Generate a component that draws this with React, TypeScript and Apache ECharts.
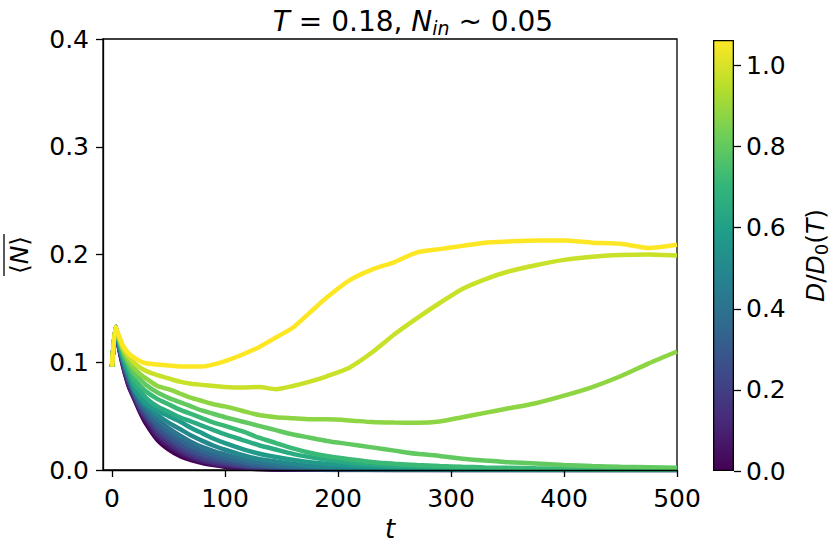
import React, { useEffect, useRef } from 'react';
import * as echarts from 'echarts';

// time grids
const T_FINE = [0, 3, 6, 10, 15, 20, 25, 30, 40, 50, 60, 70, 80, 90, 100, 115, 130, 145, 160, 175, 190, 210, 230, 250, 270, 290, 310, 330, 350, 375, 400, 425, 450, 475, 500];
const T_COARSE = [0, 3, 6, 10, 15, 20, 25, 30, 40, 50, 60, 70, 80, 90, 100, 120, 140, 170, 200, 250, 300, 400, 500];

// upper (distinct) curves, on T_FINE
const D_UPPER = [0.65, 0.72, 0.8, 0.88, 0.98, 1.063];
const N_TEAL = [0.096, 0.133, 0.120, 0.105, 0.092, 0.079, 0.073, 0.067, 0.059, 0.054, 0.049, 0.045, 0.041, 0.037, 0.033, 0.028, 0.023, 0.019, 0.015, 0.012, 0.0095, 0.007, 0.005, 0.0038, 0.003, 0.0023, 0.0018, 0.0014, 0.0011, 0.0008, 0.0006, 0.0004, 0.0003, 0.0003, 0.0002];
const N_TEALGREEN = [0.096, 0.133, 0.121, 0.107, 0.095, 0.084, 0.078, 0.073, 0.066, 0.061, 0.056, 0.052, 0.048, 0.044, 0.041, 0.036, 0.030, 0.025, 0.020, 0.016, 0.013, 0.010, 0.0075, 0.0058, 0.0046, 0.0037, 0.003, 0.0024, 0.002, 0.0016, 0.0013, 0.001, 0.0008, 0.0007, 0.0006];
const N_GREEN = [0.096, 0.133, 0.122, 0.109, 0.098, 0.089, 0.084, 0.079, 0.072, 0.067, 0.063, 0.059, 0.055, 0.052, 0.049, 0.045, 0.041, 0.037, 0.033, 0.030, 0.027, 0.024, 0.021, 0.018, 0.015, 0.013, 0.0105, 0.0088, 0.0073, 0.006, 0.0047, 0.0037, 0.003, 0.0025, 0.002];
const N_LIGHTGREEN = [0.096, 0.133, 0.123, 0.111, 0.101, 0.094, 0.089, 0.085, 0.078, 0.075, 0.071, 0.067, 0.064, 0.061, 0.059, 0.055, 0.051, 0.049, 0.048, 0.047, 0.047, 0.046, 0.0445, 0.044, 0.0438, 0.045, 0.049, 0.053, 0.057, 0.062, 0.069, 0.077, 0.087, 0.099, 0.110];
const N_YELLOWGREEN = [0.096, 0.133, 0.124, 0.113, 0.105, 0.099, 0.095, 0.092, 0.088, 0.085, 0.082, 0.080, 0.079, 0.078, 0.077, 0.0765, 0.077, 0.075, 0.078, 0.082, 0.087, 0.095, 0.109, 0.126, 0.141, 0.155, 0.168, 0.177, 0.184, 0.190, 0.195, 0.198, 0.1995, 0.200, 0.199];
const N_YELLOW = [0.096, 0.133, 0.125, 0.115, 0.108, 0.104, 0.101, 0.099, 0.098, 0.097, 0.096, 0.096, 0.096, 0.098, 0.101, 0.107, 0.114, 0.123, 0.132, 0.146, 0.160, 0.176, 0.186, 0.193, 0.202, 0.205, 0.208, 0.211, 0.212, 0.213, 0.213, 0.211, 0.210, 0.206, 0.209];
const N_UPPER = [N_TEAL, N_TEALGREEN, N_GREEN, N_LIGHTGREEN, N_YELLOWGREEN, N_YELLOW];

// dense bundle of fast-decaying curves, on T_COARSE
const D_BUNDLE = [0, 0.07, 0.14, 0.21, 0.28, 0.35, 0.42, 0.5, 0.58];
const N_B0 = [0.096, 0.132, 0.114, 0.095, 0.077, 0.065, 0.053, 0.043, 0.028, 0.019, 0.013, 0.0092, 0.0064, 0.0045, 0.003, 0.0013, 0.0005, 0.0002, 0.0001, 0, 0, 0, 0];
const N_B1 = [0.096, 0.132, 0.1145, 0.096, 0.078, 0.066, 0.055, 0.046, 0.031, 0.022, 0.0155, 0.011, 0.0078, 0.0056, 0.0039, 0.0018, 0.0008, 0.0003, 0.0001, 0, 0, 0, 0];
const N_B2 = [0.096, 0.132, 0.115, 0.097, 0.080, 0.067, 0.056, 0.048, 0.034, 0.025, 0.018, 0.013, 0.0094, 0.0068, 0.0051, 0.0025, 0.0012, 0.0004, 0.0002, 0.0001, 0, 0, 0];
const N_B3 = [0.096, 0.133, 0.1155, 0.098, 0.081, 0.069, 0.058, 0.050, 0.037, 0.028, 0.021, 0.0155, 0.0115, 0.0087, 0.0066, 0.0034, 0.0017, 0.0007, 0.0003, 0.0001, 0, 0, 0];
const N_B4 = [0.096, 0.133, 0.116, 0.099, 0.083, 0.070, 0.060, 0.053, 0.040, 0.031, 0.024, 0.0185, 0.0142, 0.011, 0.0086, 0.0047, 0.0025, 0.001, 0.0004, 0.0001, 0, 0, 0];
const N_B5 = [0.096, 0.133, 0.1165, 0.100, 0.084, 0.071, 0.062, 0.055, 0.043, 0.035, 0.028, 0.022, 0.0175, 0.014, 0.0111, 0.0065, 0.0037, 0.0015, 0.0007, 0.0002, 0.0001, 0, 0];
const N_B6 = [0.096, 0.133, 0.117, 0.101, 0.086, 0.073, 0.064, 0.058, 0.047, 0.039, 0.032, 0.026, 0.0212, 0.0175, 0.0145, 0.009, 0.0055, 0.0025, 0.0012, 0.0004, 0.0001, 0, 0];
const N_B7 = [0.096, 0.133, 0.118, 0.102, 0.087, 0.074, 0.066, 0.060, 0.051, 0.044, 0.038, 0.032, 0.027, 0.0225, 0.0188, 0.0125, 0.0085, 0.0045, 0.0024, 0.0009, 0.0004, 0.0001, 0];
const N_B8 = [0.096, 0.133, 0.119, 0.103, 0.089, 0.075, 0.068, 0.062, 0.055, 0.050, 0.045, 0.039, 0.034, 0.029, 0.025, 0.018, 0.013, 0.008, 0.005, 0.002, 0.001, 0.0002, 0];
const N_BUNDLE = [N_B0, N_B1, N_B2, N_B3, N_B4, N_B5, N_B6, N_B7, N_B8];

// axes / colour bar
const X_TICKS = [0, 100, 200, 300, 400, 500];
const CB_TICKS = [0, 0.2, 0.4, 0.6, 0.8, 1.0];
const CB_MAX = 1.063;
const VIRIDIS = ['#440154', '#482878', '#3e4989', '#31688e', '#26828e', '#1f9e89', '#35b779', '#6ece58', '#b5de2b', '#fde725'];

function hexToRgb(h: string) {
  return [parseInt(h.slice(1, 3), 16), parseInt(h.slice(3, 5), 16), parseInt(h.slice(5, 7), 16)];
}
function viridis(v: number) {
  const x = Math.max(0, Math.min(1, v)) * (VIRIDIS.length - 1);
  const i = Math.min(Math.floor(x), VIRIDIS.length - 2);
  const f = x - i;
  const a = hexToRgb(VIRIDIS[i]);
  const b = hexToRgb(VIRIDIS[i + 1]);
  const c = a.map((av, k) => Math.round(av + (b[k] - av) * f));
  return `rgb(${c[0]},${c[1]},${c[2]})`;
}

const FONT = 'DejaVu Sans';
const LW = 4.5;

export default function App() {
  const ref = useRef<HTMLDivElement>(null);
  useEffect(() => {
    if (!ref.current) return;
    const chart = echarts.init(ref.current, undefined, { renderer: 'svg' });
    const lineSeries: any[] = [];
    D_BUNDLE.forEach((d, k) => {
      lineSeries.push({
        type: 'line', xAxisIndex: 0, yAxisIndex: 0, symbol: 'none', showSymbol: false,
        smooth: 0.2,
        data: T_COARSE.map((t, i) => [t, N_BUNDLE[k][i]]),
        lineStyle: { width: LW, color: viridis(d / CB_MAX) },
        itemStyle: { color: viridis(d / CB_MAX) },
        silent: true,
      });
    });
    D_UPPER.forEach((d, k) => {
      lineSeries.push({
        type: 'line', xAxisIndex: 0, yAxisIndex: 0, symbol: 'none', showSymbol: false,
        smooth: 0.2,
        data: T_FINE.map((t, i) => [t, N_UPPER[k][i]]),
        lineStyle: { width: LW, color: viridis(d / CB_MAX) },
        itemStyle: { color: viridis(d / CB_MAX) },
        silent: true,
      });
    });
    const gradient = new echarts.graphic.LinearGradient(0, 1, 0, 0,
      VIRIDIS.map((c, i) => ({ offset: i / (VIRIDIS.length - 1), color: c })));
    const option: any = {
      animation: false,
      textStyle: { fontFamily: FONT, color: '#000' },
      title: {
        text: '{i|T} = 0.18, {i|N}{s|in} ~ 0.05',
        left: 408, top: 0, textAlign: 'center',
        textStyle: {
          fontFamily: FONT, fontSize: 28, fontWeight: 'normal', color: '#000',
          rich: {
            i: { fontFamily: FONT, fontSize: 28, fontStyle: 'italic', color: '#000' },
            s: { fontFamily: FONT, fontSize: 19, fontStyle: 'italic', color: '#000', padding: [13, 0, 0, 0] },
          },
        },
      },
      graphic: [
        {
          type: 'group', x: 19, y: 255, rotation: Math.PI / 2,
          children: [
            {
              type: 'text',
              style: {
                text: '{a|⟨}{n|N}{a|⟩}', align: 'center', verticalAlign: 'middle',
                fontFamily: FONT, fontSize: 25, fill: '#000',
                rich: {
                  a: { fontFamily: FONT, fontSize: 25, fill: '#000' },
                  n: { fontFamily: FONT, fontSize: 25, fontStyle: 'italic', fill: '#000' },
                },
              },
            },
            { type: 'line', shape: { x1: -21, y1: -15, x2: 21, y2: -15 }, style: { stroke: '#000', lineWidth: 1.3 } },
          ],
        },
      ],
      grid: [
        { left: 103, right: 154, top: 39, bottom: 79, show: true, borderColor: '#000', borderWidth: 1.3, backgroundColor: 'rgba(0,0,0,0)' },
        { left: 713, right: 97, top: 40, bottom: 78 },
      ],
      xAxis: [
        {
          type: 'value', gridIndex: 0, min: -8, max: 500, z: 5,
          name: 't', nameLocation: 'middle', nameGap: 44,
          nameTextStyle: { fontFamily: FONT, fontSize: 26, fontStyle: 'italic', color: '#000' },
          axisLine: { show: true, onZero: false, lineStyle: { color: '#000', width: 1.3 } },
          axisTick: { show: true, length: 7, lineStyle: { color: '#000', width: 1.3 }, customValues: X_TICKS },
          axisLabel: { customValues: X_TICKS, fontFamily: FONT, fontSize: 25, color: '#000', margin: 16 },
          splitLine: { show: false },
        },
        { type: 'category', gridIndex: 1, data: ['cb'], show: false },
      ],
      yAxis: [
        {
          type: 'value', gridIndex: 0, min: 0, max: 0.4, interval: 0.1, z: 5,
          axisLine: { show: true, onZero: false, lineStyle: { color: '#000', width: 1.3 } },
          axisTick: { show: true, length: 7, lineStyle: { color: '#000', width: 1.3 } },
          axisLabel: { fontFamily: FONT, fontSize: 25, color: '#000', margin: 14, formatter: (v: number) => v.toFixed(1) },
          splitLine: { show: false },
        },
        {
          type: 'value', gridIndex: 1, min: 0, max: CB_MAX, position: 'right',
          name: '{i|D}/{i|D}{s|0}({i|T})', nameLocation: 'middle', nameGap: 66, nameRotate: 90,
          nameTextStyle: {
            fontFamily: FONT, fontSize: 25, color: '#000',
            rich: {
              i: { fontFamily: FONT, fontSize: 25, fontStyle: 'italic', color: '#000' },
              s: { fontFamily: FONT, fontSize: 18, color: '#000', padding: [12, 0, 0, 0] },
            },
          },
          axisLine: { show: false, onZero: false },
          axisTick: { show: true, length: 7, lineStyle: { color: '#000', width: 1.3 }, customValues: CB_TICKS },
          axisLabel: { customValues: CB_TICKS, fontFamily: FONT, fontSize: 25, color: '#000', margin: 12, formatter: (v: number) => v.toFixed(1) },
          splitLine: { show: false },
        },
      ],
      series: [
        ...lineSeries,
        {
          type: 'bar', xAxisIndex: 1, yAxisIndex: 1, data: [CB_MAX], barWidth: '100%', silent: true,
          itemStyle: { color: gradient, borderColor: '#000', borderWidth: 1.3 },
        },
      ],
    };
    chart.setOption(option);
    return () => chart.dispose();
  }, []);
  return <div ref={ref} style={{ position: 'absolute', left: 0, top: 0, width: 831, height: 549 }} />;
}
